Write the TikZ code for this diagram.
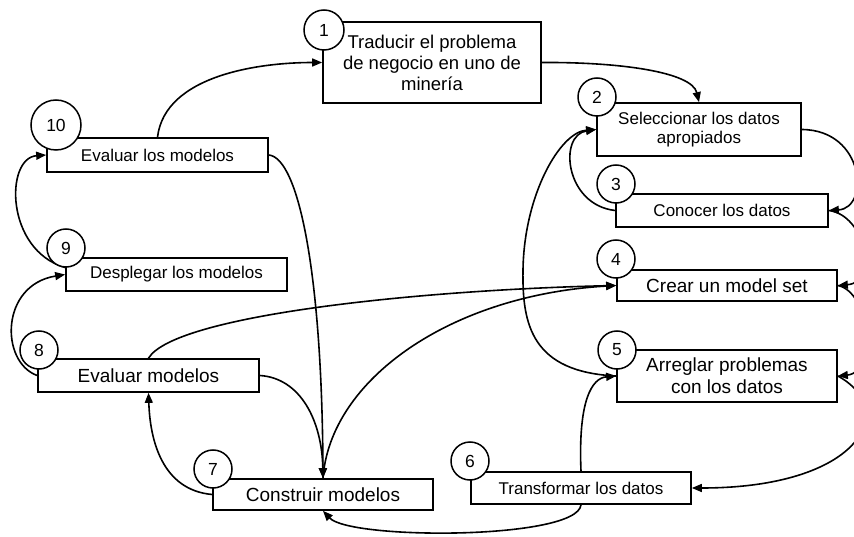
\documentclass[tikz,border=0pt]{standalone}
\usepackage{fontspec}
\setmainfont{Liberation Sans}
\usetikzlibrary{arrows.meta,backgrounds}
\begin{document}
\begin{tikzpicture}[x=1pt,y=-1pt,
  box/.style={draw, line width=1.7pt, fill=white, inner sep=0pt, align=center},
  num/.style={draw, circle, line width=1.5pt, fill=white, inner sep=0pt, minimum size=38pt, font=\fontsize{17.5}{17.5}\selectfont},
  conn/.style={line width=1.6pt, -{Triangle[length=10pt,width=8pt]}},
  smalltxt/.style={font=\fontsize{17}{19}\selectfont},
  largetxt/.style={font=\fontsize{19}{22}\selectfont}]
\useasboundingbox (0,0) rectangle (854,537);
% boxes
\node[box, font=\fontsize{18.5}{21}\selectfont, minimum width=218pt, minimum height=81pt] (b1) at (432,62.5) {Traducir el problema\\de negocio en uno de\\minería};
\node[box, smalltxt, minimum width=204pt, minimum height=53pt] (b2) at (699,129.5) {Seleccionar los datos\\apropiados};
\node[box, smalltxt, minimum width=212pt, minimum height=33pt] (b3) at (722,210.5) {Conocer los datos};
\node[box, largetxt, minimum width=220pt, minimum height=31pt] (b4) at (727,285.5) {Crear un model set};
\node[box, largetxt, minimum width=220pt, minimum height=52pt] (b5) at (727,376) {Arreglar problemas\\con los datos};
\node[box, smalltxt, minimum width=220pt, minimum height=32pt] (b6) at (581,488) {Transformar los datos};
\node[box, largetxt, minimum width=220pt, minimum height=31pt] (b7) at (323,494.5) {Construir modelos};
\node[box, largetxt, minimum width=221pt, minimum height=33pt] (b8) at (148.5,375.5) {Evaluar modelos};
\node[box, smalltxt, minimum width=221pt, minimum height=33pt] (b9) at (176.5,274.5) {Desplegar los modelos};
\node[box, smalltxt, minimum width=221pt, minimum height=34pt] (b10) at (157.5,155) {Evaluar los modelos};
% number circles
\node[num, minimum size=40pt] (c1) at (324,30) {1};
\node[num] (c2) at (597,97) {2};
\node[num] (c3) at (616,184) {3};
\node[num] (c4) at (616,259) {4};
\node[num] (c5) at (617,350) {5};
\node[num] (c6) at (470,461) {6};
\node[num] (c7) at (213,469) {7};
\node[num] (c8) at (39,350) {8};
\node[num] (c9) at (66,248) {9};
\node[num, minimum size=50pt] (c10) at (56,125) {10};
% connectors
\begin{pgfonlayer}{background}
\fill[white] (0,0) rectangle (854,537);
\clip (0,0) rectangle (854,537);
\draw[conn] (b10.north) .. controls (165,75) and (260,62.5) .. (b1.west);
\draw[conn] (b1.east) .. controls (620,62) and (692,72) .. (b2.north);
\draw[conn] (b2.east) .. controls (865,130) and (870,208) .. (b3.east);
\draw[conn] (b3.west) .. controls (565,205) and (558,135) .. (b2.west);
\draw[conn] (b3.east) .. controls (865,215) and (880,282) .. (b4.east);
\draw[conn] (b4.east) .. controls (870,292) and (878,372) .. (b5.east);
\draw[conn] (b5.east) .. controls (900,410) and (860,488) .. (b6.east);
\draw[conn] (b6.north) .. controls (578,400) and (592,378) .. (b5.west);
\draw[conn] (b5.west) .. controls (532,372) and (522,325) .. (523,270) .. controls (524,195) and (560,132) .. (b2.west);
\draw[conn] (b6.south) .. controls (577,540) and (350,540) .. (b7.south);
\draw[conn] (b7.west) .. controls (162,490) and (150,440) .. (b8.south);
\draw[conn] (b8.west) .. controls (0,362) and (0,285) .. (b9.west);
\draw[conn] ([yshift=7pt]b9.west) .. controls (5,250) and (5,158) .. (b10.west);
\draw[conn] (b10.east) .. controls (298,158) and (322,270) .. (b7.north);
\draw[conn] (b8.east) .. controls (300,378) and (322,420) .. (b7.north);
\draw[conn] (b8.north) .. controls (175,315) and (420,290) .. (b4.west);
\draw[conn] (b7.north) .. controls (330,380) and (450,295) .. (b4.west);
\end{pgfonlayer}
\end{tikzpicture}
\end{document}
